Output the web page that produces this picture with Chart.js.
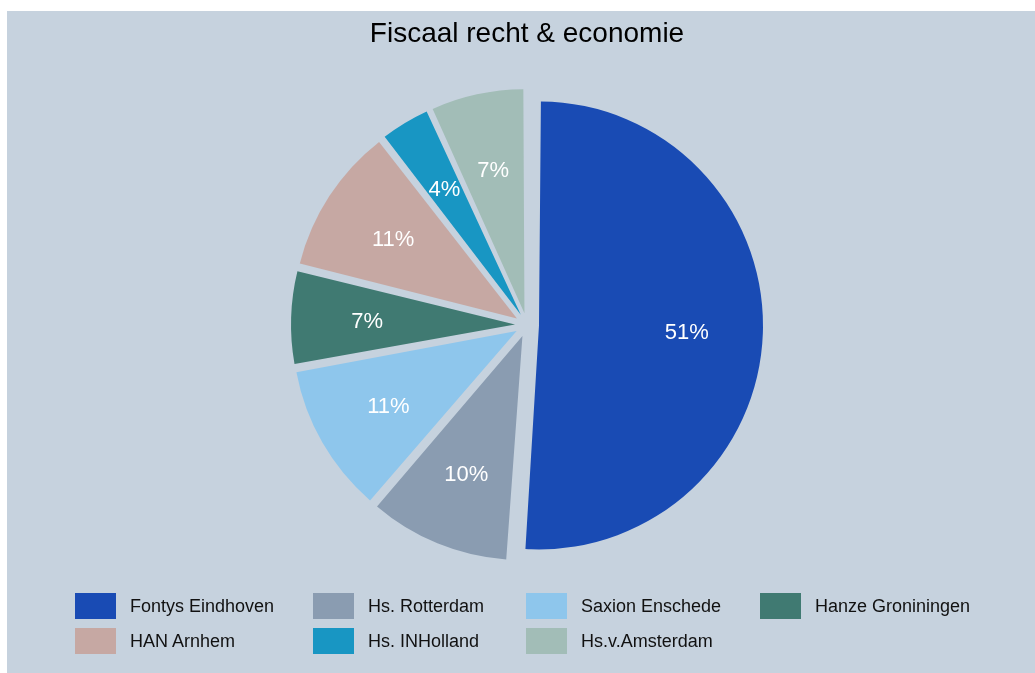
<!DOCTYPE html>
<html>
<head>
<meta charset="utf-8">
<title>Fiscaal recht &amp; economie</title>
<script src="https://cdn.jsdelivr.net/npm/chart.js@4.4.0/dist/chart.umd.min.js"></script>
<style>
  html, body { margin: 0; padding: 0; background: #fff; }
  body { width: 1035px; height: 673px; position: relative; overflow: hidden;
         font-family: 'Liberation Sans', Arial, sans-serif; }
  #panel { position: absolute; left: 7px; top: 11px; width: 1028px; height: 662px; background: #c6d2de; }
  #legend { position: absolute; left: 68px; top: 582px; display: grid;
            grid-template-columns: 238px 213px 234px auto; row-gap: 9px; }
  .item { display: flex; align-items: center; height: 26px; }
  .swatch { width: 41px; height: 26px; margin-right: 14px; }
  .item span { font-size: 18px; color: #111; white-space: nowrap; }
</style>
</head>
<body>
<div id="panel">
  <canvas id="pie"></canvas>
  <div id="legend"></div>
</div>
<script>
// Share per school (labels round to whole %)
const schools = ['Fontys Eindhoven', 'Hs. Rotterdam', 'Saxion Enschede', 'Hanze Groniningen',
                 'HAN Arnhem', 'Hs. INHolland', 'Hs.v.Amsterdam'];
const shares = [51.1, 10.2, 10.8, 6.8, 10.6, 3.7, 6.8];
const sliceColors = ['#194bb4', '#8a9cb1', '#8ec6ec', '#407a72', '#c6a8a3', '#1896c3', '#a2bdb7'];

// Chart.js moves an arc offset/4 away from the centre
const OFFSET = 48;
const FONT = "'Liberation Sans', Arial, sans-serif";

// Chart.js also grows each arc's radius with its offset; undo that so all slices stay equal
const evenRadius = {
    id: 'evenRadius',
    afterDatasetsUpdate(chart) {
        chart.getDatasetMeta(0).data.forEach(arc => {
            const circ = arc.endAngle - arc.startAngle;
            const fix = 1 - Math.sin(Math.min(Math.PI, circ));
            arc.outerRadius -= OFFSET / 4 * fix;
        });
    }
};

// White percentage inside each slice
const pctLabels = {
    id: 'pctLabels',
    afterDatasetsDraw(chart) {
        const meta = chart.getDatasetMeta(0);
        const radius = meta.controller.outerRadius;
        const total = shares.reduce((a, b) => a + b, 0);
        const ctx = chart.ctx;
        ctx.save();
        ctx.font = '22px ' + FONT;
        ctx.fillStyle = '#fff';
        ctx.textAlign = 'center';
        ctx.textBaseline = 'middle';
        meta.data.forEach((arc, i) => {
            const mid = (arc.startAngle + arc.endAngle) / 2;
            const r = OFFSET / 4 + radius * 0.66;
            ctx.fillText(Math.round(shares[i] / total * 100) + '%',
                arc.x + Math.cos(mid) * r, arc.y + Math.sin(mid) * r + 2);
        });
        ctx.restore();
    }
};

new Chart(document.getElementById('pie'), {
    type: 'pie',
    data: {
        labels: schools,
        datasets: [{
            data: shares,
            backgroundColor: sliceColors,
            borderWidth: 0,
            offset: OFFSET,
            hoverOffset: OFFSET
        }]
    },
    options: {
        responsive: true,
        maintainAspectRatio: false,
        animation: false,
        events: [],
        layout: { padding: { left: 12, right: 0, top: 0, bottom: 100 } },
        plugins: {
            legend: { display: false },
            tooltip: { enabled: false },
            title: {
                display: true,
                text: 'Fiscaal recht & economie',
                color: '#000',
                font: { family: FONT, size: 28, weight: 'normal' },
                padding: { top: 6, bottom: 26.4 }
            }
        }
    },
    plugins: [evenRadius, pctLabels]
});

// Legend laid out as a grid, like the original
const legend = document.getElementById('legend');
schools.forEach((name, i) => {
    const item = document.createElement('div');
    item.className = 'item';
    const sw = document.createElement('div');
    sw.className = 'swatch';
    sw.style.background = sliceColors[i];
    const txt = document.createElement('span');
    txt.textContent = name;
    item.appendChild(sw);
    item.appendChild(txt);
    legend.appendChild(item);
});
</script>
</body>
</html>
